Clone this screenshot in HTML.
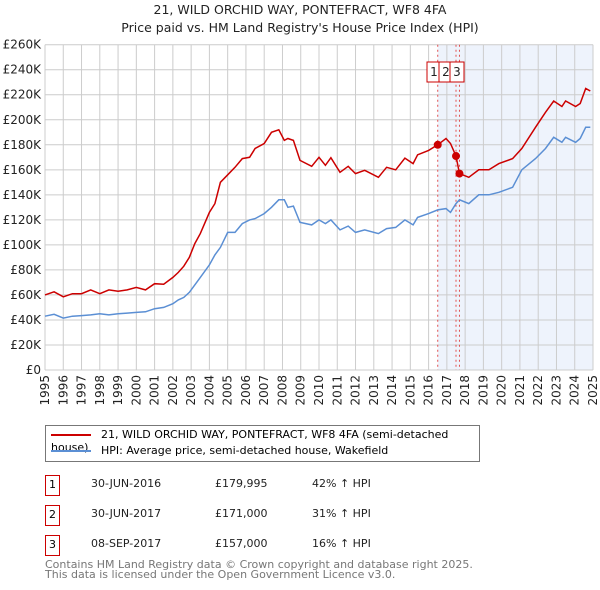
<!DOCTYPE html>
<html><head><meta charset="utf-8"><style>
body{margin:0;background:#fff;font-family:"DejaVu Sans","Liberation Sans",sans-serif;}
#wrap{position:relative;width:600px;height:590px;overflow:hidden;}
.t{position:absolute;font-size:11px;color:#222;white-space:nowrap;}
</style></head><body><div id="wrap">
<svg id="chart" width="600" height="420" style="position:absolute;left:0;top:0;font-family:'DejaVu Sans',sans-serif"></svg>
<div style="position:absolute;left:45px;top:425px;width:433px;height:35px;border:1px solid #777;">
 <div style="position:absolute;left:5px;top:2px;font-size:11px;"><span style="display:inline-block;width:40px;height:2px;background:#cc0000;vertical-align:middle;margin-right:10px"></span>21, WILD ORCHID WAY, PONTEFRACT, WF8 4FA (semi-detached house)</div>
 <div style="position:absolute;left:5px;top:18px;font-size:11px;"><span style="display:inline-block;width:40px;height:2px;background:#5b8fd4;vertical-align:middle;margin-right:10px"></span>HPI: Average price, semi-detached house, Wakefield</div>
</div>
<div id="rows"></div>
<div class="t" style="left:45px;top:560px;font-size:11px;line-height:10px;color:#777">Contains HM Land Registry data © Crown copyright and database right 2025.<br>This data is licensed under the Open Government Licence v3.0.</div>
</div>
<script>
const years=[1995,1995.5,1996,1996.5,1997,1997.5,1998,1998.5,1999,1999.5,2000,2000.5,2001,2001.5,2002,2002.3,2002.6,2002.9,2003.2,2003.5,2004,2004.3,2004.6,2005,2005.4,2005.8,2006.2,2006.5,2007,2007.4,2007.8,2008.1,2008.3,2008.6,2008.96,2009.6,2010,2010.35,2010.65,2011.15,2011.6,2012,2012.5,2013.25,2013.7,2014.2,2014.7,2015.15,2015.4,2016,2016.5,2016.95,2017.2,2017.5,2017.69,2018.2,2018.75,2019.3,2019.85,2020.6,2021.1,2021.85,2022.4,2022.85,2023.3,2023.5,2024.05,2024.3,2024.6,2024.85];
const hpiValues=[43,44.5,41.5,43,43.5,44,45,44,45,45.5,46,46.5,49,50,53,56,58,62,68,74,84,92,98,110,110,117,120,121,125,130,136,136,130,131,118,116,120,117,120,112,115,110,112,109,113,114,120,116,122,125,128,129,126,133,136,133,140,140,142,146,160,169,177,186,182,186,182,185,194,194];
const priceValues=[60,62.5,58.5,61,61,64,61,64,63,64,66,64,69,68.6,74,78,83,90,101,109,126,133,150,156,162,169,170,177,181,190,192,183.5,185,183.5,167.5,162.8,170,163.6,169.7,158,162.8,157,159.6,154,162,160,169.4,165,172,175.5,180,185,181,171,157,154,160,160,165,169,177,194,206,215,210.6,215,210.6,213,225,223];
const saleYears=[2016.5,2017.5,2017.69];
const saleValues=[179.995,171,157];
const yTicks=[0,20,40,60,80,100,120,140,160,180,200,220,240,260];
const xTicks=[1995,1996,1997,1998,1999,2000,2001,2002,2003,2004,2005,2006,2007,2008,2009,2010,2011,2012,2013,2014,2015,2016,2017,2018,2019,2020,2021,2022,2023,2024,2025];
const L=45,R=593,T=44.7,B=370;
const X=y=>L+(y-1995)*(R-L)/30, Y=v=>B-v*(B-T)/260;
const S=document.getElementById('chart'),NS='http://www.w3.org/2000/svg';
function mk(tag,at,parent){const e=document.createElementNS(NS,tag);for(const k in at)e.setAttribute(k,at[k]);(parent||S).appendChild(e);return e;}
let e=mk('rect',{x:X(2016.5),y:T,width:R-X(2016.5),height:B-T,fill:'#eef3fc'});

yTicks.forEach(v=>{let g=mk('line',{x1:L,x2:R,y1:Y(v),y2:Y(v),stroke:'#ccc','stroke-width':1});

let t=mk('text',{x:L-4,y:Y(v)+4,'text-anchor':'end','font-size':12,fill:'#222'});t.textContent='£'+(v?v+'K':'0');
});
xTicks.forEach(y=>{let g=mk('line',{x1:X(y),x2:X(y),y1:T,y2:B,stroke:'#ccc','stroke-width':1});

let t=mk('text',{transform:`translate(${X(y)+4},${B+5}) rotate(-90)`,'text-anchor':'end','font-size':12,fill:'#222'});t.textContent=y;
});
saleYears.forEach((y,i)=>{let l=mk('line',{x1:X(y),x2:X(y),y1:T,y2:B,stroke:'#e05050','stroke-dasharray':'2,3'});
});
function path(vals,col,name){let d=vals.map((v,i)=>(i?'L':'M')+X(years[i]).toFixed(1)+','+Y(v).toFixed(1)).join('');
let p=mk('path',{d:d,fill:'none',stroke:col,'stroke-width':1.5});}
path(hpiValues,'#5b8fd4','hpi-line');path(priceValues,'#cc0000','property-price-line');
saleYears.forEach((y,i)=>{let c=mk('circle',{cx:X(y),cy:Y(saleValues[i]),r:4,fill:'#cc0000'});
});
[[434,'1'],[446,'2'],[457,'3']].forEach(([cx,s])=>{let g=mk('g',{});
mk('rect',{x:cx-7,y:62,width:14,height:20,fill:'#fff',stroke:'#cc0000'},g);let t=mk('text',{x:cx,y:76,'text-anchor':'middle','font-size':12,fill:'#222'},g);t.textContent=s;});
let a=mk('text',{x:300,y:14,'text-anchor':'middle','font-size':12.5,fill:'#222'});a.textContent='21, WILD ORCHID WAY, PONTEFRACT, WF8 4FA';

let b=mk('text',{x:300,y:32,'text-anchor':'middle','font-size':12.5,fill:'#222'});b.textContent="Price paid vs. HM Land Registry's House Price Index (HPI)";

const rows=[['1','30-JUN-2016','£179,995','42% ↑ HPI',485],['2','30-JUN-2017','£171,000','31% ↑ HPI',515],['3','08-SEP-2017','£157,000','16% ↑ HPI',545]];
const RW=document.getElementById('rows');
rows.forEach(r=>{const d=document.createElement('div');


d.innerHTML=`<div style="position:absolute;left:45px;top:${r[4]-10}px;width:13px;height:19px;border:1px solid #cc0000;font-size:11px;text-align:center;line-height:18px">${r[0]}</div><div class="t" style="left:91px;top:${r[4]-8}px">${r[1]}</div><div class="t" style="left:215px;top:${r[4]-8}px">${r[2]}</div><div class="t" style="left:312px;top:${r[4]-8}px">${r[3]}</div>`;
RW.appendChild(d);});
</script></body></html>
